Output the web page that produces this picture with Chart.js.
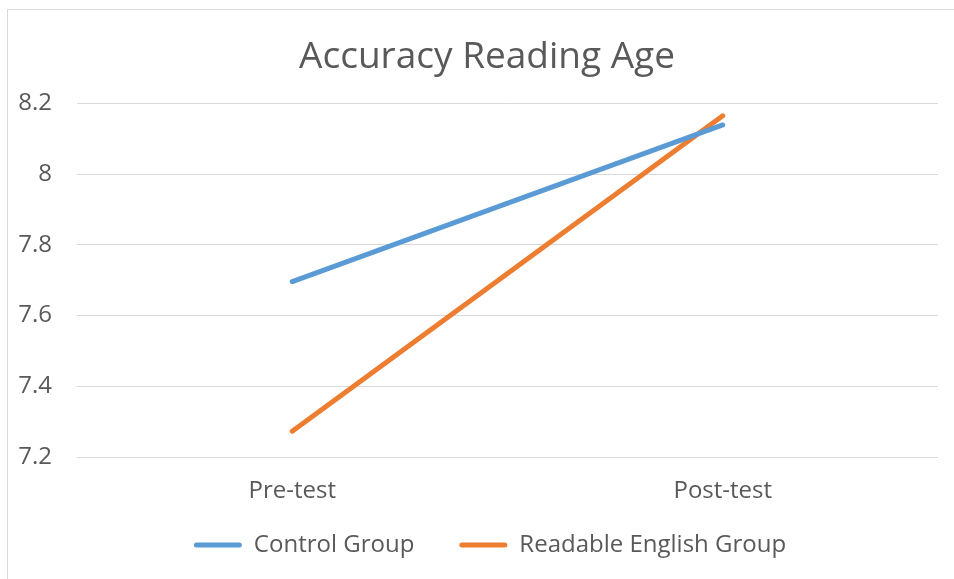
<!DOCTYPE html>
<html>
<head>
<meta charset="utf-8">
<script src="https://cdn.jsdelivr.net/npm/chart.js@4/dist/chart.umd.min.js"></script>
<style>
html,body{margin:0;padding:0;background:#fff;}
#wrap{position:absolute;left:0;top:0;width:954px;height:579px;}
</style>
</head>
<body>
<div id="wrap"><canvas id="c" width="954" height="579"></canvas></div>
<script>
const categories = ["Pre-test", "Post-test"];
const controlGroup = [7.696, 8.139];
const readableEnglishGroup = [7.273, 8.165];
const yTicks = [7.2, 7.4, 7.6, 7.8, 8, 8.2];

const FONT = "'Open Sans', sans-serif";
const TEXT = "#595959";

const framePlugin = {
  id: 'frame',
  beforeLayout(chart) {
    const lg = chart.legend;
    if (lg && !lg._fitWrapped) {
      const orig = lg.fit;
      lg.fit = function () { orig.call(this); this.height = 60; };
      lg._fitWrapped = true;
    }
  },
  afterLayout(chart) {
    const t = chart.titleBlock;
    if (t) { t.left += 13; t.right += 13; }
    const lg = chart.legend;
    if (lg) { lg.left += 16; lg.right += 16; lg.top -= 18; }
  },
  beforeDraw(chart) {
    const ctx = chart.ctx;
    ctx.save();
    ctx.fillStyle = '#fff';
    ctx.fillRect(0, 0, chart.width, chart.height);
    ctx.strokeStyle = '#d9d9d9';
    ctx.lineWidth = 1;
    ctx.strokeRect(7.5, 9.5, 1200, 1200);
    ctx.restore();
  }
};

new Chart(document.getElementById('c'), {
  type: 'line',
  data: {
    labels: categories,
    datasets: [
      {
        label: 'Control Group',
        data: controlGroup,
        borderColor: '#5B9BD5',
        backgroundColor: '#5B9BD5',
        borderWidth: 5,
        borderCapStyle: 'round',
        pointRadius: 0,
        tension: 0
      },
      {
        label: 'Readable English Group',
        data: readableEnglishGroup,
        borderColor: '#ED7D31',
        backgroundColor: '#ED7D31',
        borderWidth: 5,
        borderCapStyle: 'round',
        pointRadius: 0,
        tension: 0
      }
    ]
  },
  options: {
    responsive: false,
    animation: false,
    layout: { padding: { left: 10, right: 16, top: 9, bottom: 13 } },
    plugins: {
      title: {
        display: true,
        text: 'Accuracy Reading Age',
        color: TEXT,
        font: { family: FONT, size: 37, weight: 'normal' },
        padding: { top: 26, bottom: 24 }
      },
      legend: {
        position: 'bottom',
        labels: {
          color: TEXT,
          font: { family: FONT, size: 24 },
          boxWidth: 48,
          boxHeight: 5,
          padding: 45,
          useBorderRadius: true,
          borderRadius: 2.5,
          generateLabels(chart) {
            return Chart.defaults.plugins.legend.labels.generateLabels(chart)
              .map(it => Object.assign(it, { lineWidth: 0 }));
          }
        }
      },
      tooltip: { enabled: false }
    },
    scales: {
      x: {
        offset: true,
        afterFit(scale) { scale.height = 49; },
        grid: { display: false, drawTicks: false },
        border: { display: false },
        ticks: { color: TEXT, font: { family: FONT, size: 24 }, padding: 20 }
      },
      y: {
        min: 7.2,
        max: 8.2,
        afterBuildTicks(scale) { scale.ticks = yTicks.map(v => ({ value: v })); },
        afterFit(scale) { scale.width = 67; },
        grid: { color: '#d9d9d9', lineWidth: 1, drawTicks: false },
        border: { display: false },
        ticks: {
          color: TEXT,
          font: { family: FONT, size: 24 },
          padding: 25,
          callback: v => String(Math.round(v * 10) / 10)
        }
      }
    }
  },
  plugins: [framePlugin]
});
</script>
</body>
</html>
